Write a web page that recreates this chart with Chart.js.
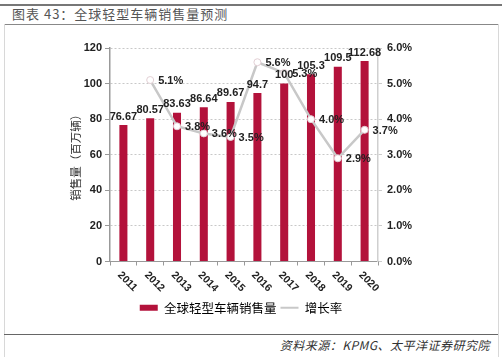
<!DOCTYPE html>
<html>
<head>
<meta charset="utf-8">
<script src="https://cdn.jsdelivr.net/npm/chart.js@4/dist/chart.umd.min.js"></script>
<style>
  html, body { margin: 0; padding: 0; background: #fff; }
  body { width: 502px; height: 357px; position: relative; overflow: hidden; font-family: "Noto Sans CJK SC", "Liberation Sans", sans-serif; }
  .hl { position: absolute; }
  #title { position: absolute; left: 12px; top: 6px; font-size: 13px; line-height: 16px; color: #555; letter-spacing: 1px; white-space: nowrap; }
  #source { position: absolute; right: 12px; top: 337px; font-size: 12px; line-height: 16px; color: #333; font-style: italic; letter-spacing: 0.5px; white-space: nowrap; }
  #wrap { position: absolute; left: 0; top: 0; width: 502px; height: 357px; }
</style>
</head>
<body>
<div class="hl" style="left:0;top:4px;width:502px;height:2px;background:#777"></div>
<div id="title">图表 43：全球轻型车辆销售量预测</div>
<div class="hl" style="left:4px;top:24px;width:494px;height:1px;background:#888"></div>
<div class="hl" style="left:4px;top:24px;width:1px;height:333px;background:#d8d8d8"></div>
<div class="hl" style="left:498px;top:24px;width:1px;height:333px;background:#d8d8d8"></div>
<div class="hl" style="left:4px;top:334px;width:494px;height:1px;background:#666"></div>
<div id="source">资料来源：KPMG、太平洋证券研究院</div>
<div id="wrap"><canvas id="c" width="502" height="357"></canvas></div>
<script>
const categories = ['2011','2012','2013','2014','2015','2016','2017','2018','2019','2020'];
const salesValues = [76.67, 80.57, 83.63, 86.64, 89.67, 94.7, 100, 105.3, 109.5, 112.68];
const salesLabels = ['76.67','80.57','83.63','86.64','89.67','94.7','100','105.3','109.5','112.68'];
const growthValues = [null, 5.1, 3.8, 3.6, 3.5, 5.6, 5.3, 4.0, 2.9, 3.7];
const leftTicks = [0, 20, 40, 60, 80, 100, 120];
const rightTicks = [0, 1, 2, 3, 4, 5, 6];
const barName = '全球轻型车辆销售量';
const lineName = '增长率';
const leftTitle = '销售量（百万辆）';

const BAR = '#b3123b';
const LINE = '#c8c8c8';
const TICKFONT = { family: 'Liberation Sans, Arial, sans-serif', size: 11, weight: 'bold' };

const labelPlugin = {
  id: 'valueLabels',
  afterDatasetsDraw(chart) {
    const ctx = chart.ctx;
    ctx.save();
    ctx.font = 'bold 11px "Liberation Sans", Arial, sans-serif';
    ctx.fillStyle = '#222';
    chart.data.datasets.forEach((ds, di) => {
      const meta = chart.getDatasetMeta(di);
      meta.data.forEach((el, i) => {
        const v = ds.data[i];
        if (v === null || v === undefined) return;
        if (ds.type === 'bar') {
          ctx.textAlign = 'center';
          ctx.textBaseline = 'bottom';
          ctx.fillText(salesLabels[i], el.x, el.y - 3);
        } else {
          ctx.textAlign = 'left';
          ctx.textBaseline = 'middle';
          ctx.fillText(v.toFixed(1) + '%', el.x + 8, el.y + 1);
        }
      });
    });
    ctx.restore();
  },
  afterDraw(chart) {
    const ctx = chart.ctx;
    const xs = chart.scales.x;
    ctx.save();
    ctx.font = 'bold 10.5px "Liberation Sans", Arial, sans-serif';
    ctx.fillStyle = '#222';
    ctx.textAlign = 'left';
    ctx.textBaseline = 'middle';
    categories.forEach((c, i) => {
      const x = xs.getPixelForTick(i);
      ctx.save();
      ctx.translate(x - 4, xs.top + 12);
      ctx.rotate(Math.PI / 4);
      ctx.fillText(c, 0, 0);
      ctx.restore();
    });
    ctx.restore();
  }
};

new Chart(document.getElementById('c'), {
  data: {
    labels: categories,
    datasets: [
      {
        type: 'line',
        label: lineName,
        data: growthValues,
        yAxisID: 'y1',
        borderColor: LINE,
        borderWidth: 2.5,
        pointRadius: 3.5,
        pointBackgroundColor: '#fff',
        pointBorderColor: '#e2cfd4',
        pointBorderWidth: 1,
        tension: 0,
        order: 0
      },
      {
        type: 'bar',
        label: barName,
        data: salesValues,
        yAxisID: 'y',
        backgroundColor: BAR,
        barPercentage: 0.3,
        categoryPercentage: 1,
        order: 1
      }
    ]
  },
  options: {
    responsive: false,
    animation: false,
    layout: { padding: { left: 60, right: 80, top: 48, bottom: 33 } },
    plugins: {
      tooltip: { enabled: false },
      legend: {
        position: 'bottom',
        labels: {
          usePointStyle: true,
          pointStyleWidth: 18,
          boxHeight: 6,
          padding: 4,
          color: '#333',
          font: { family: '"Noto Sans CJK SC", sans-serif', size: 12.5 },
          generateLabels(chart) {
            return [
              { text: barName, fillStyle: BAR, strokeStyle: BAR, lineWidth: 0, pointStyle: 'rect', datasetIndex: 1, hidden: false },
              { text: lineName, fillStyle: LINE, strokeStyle: LINE, lineWidth: 2, pointStyle: 'line', datasetIndex: 0, hidden: false }
            ];
          }
        }
      }
    },
    scales: {
      x: {
        offset: true,
        grid: { display: true, drawOnChartArea: false, offset: true, tickLength: 4, color: '#999' },
        border: { color: '#999', width: 1 },
        ticks: { display: false },
        afterFit(s) { s.height = 36; }
      },
      y: {
        position: 'left',
        min: 0, max: 120,
        afterBuildTicks(s) { s.ticks = leftTicks.map(v => ({ value: v })); },
        grid: { color: '#c8c8c8', tickLength: 5, tickColor: '#999', tickBorderDash: [] },
        border: { color: '#999', width: 1.5, dash: [2, 2] },
        ticks: { color: '#222', font: TICKFONT, padding: 3 },
        title: { display: true, text: leftTitle, color: '#333', font: { family: '"Noto Sans CJK SC", sans-serif', size: 11.5 }, padding: { top: 9, bottom: 2 } },
        afterFit(s) { s.width = 50; }
      },
      y1: {
        position: 'right',
        min: 0, max: 6,
        afterBuildTicks(s) { s.ticks = rightTicks.map(v => ({ value: v })); },
        grid: { drawOnChartArea: false, tickLength: 4, color: '#ccc' },
        border: { color: '#cfcfcf', width: 1.5 },
        ticks: { color: '#222', font: TICKFONT, padding: 5, callback: v => v.toFixed(1) + '%' },
        afterFit(s) { s.width = 44; }
      }
    }
  },
  plugins: [labelPlugin]
});
</script>
</body>
</html>
